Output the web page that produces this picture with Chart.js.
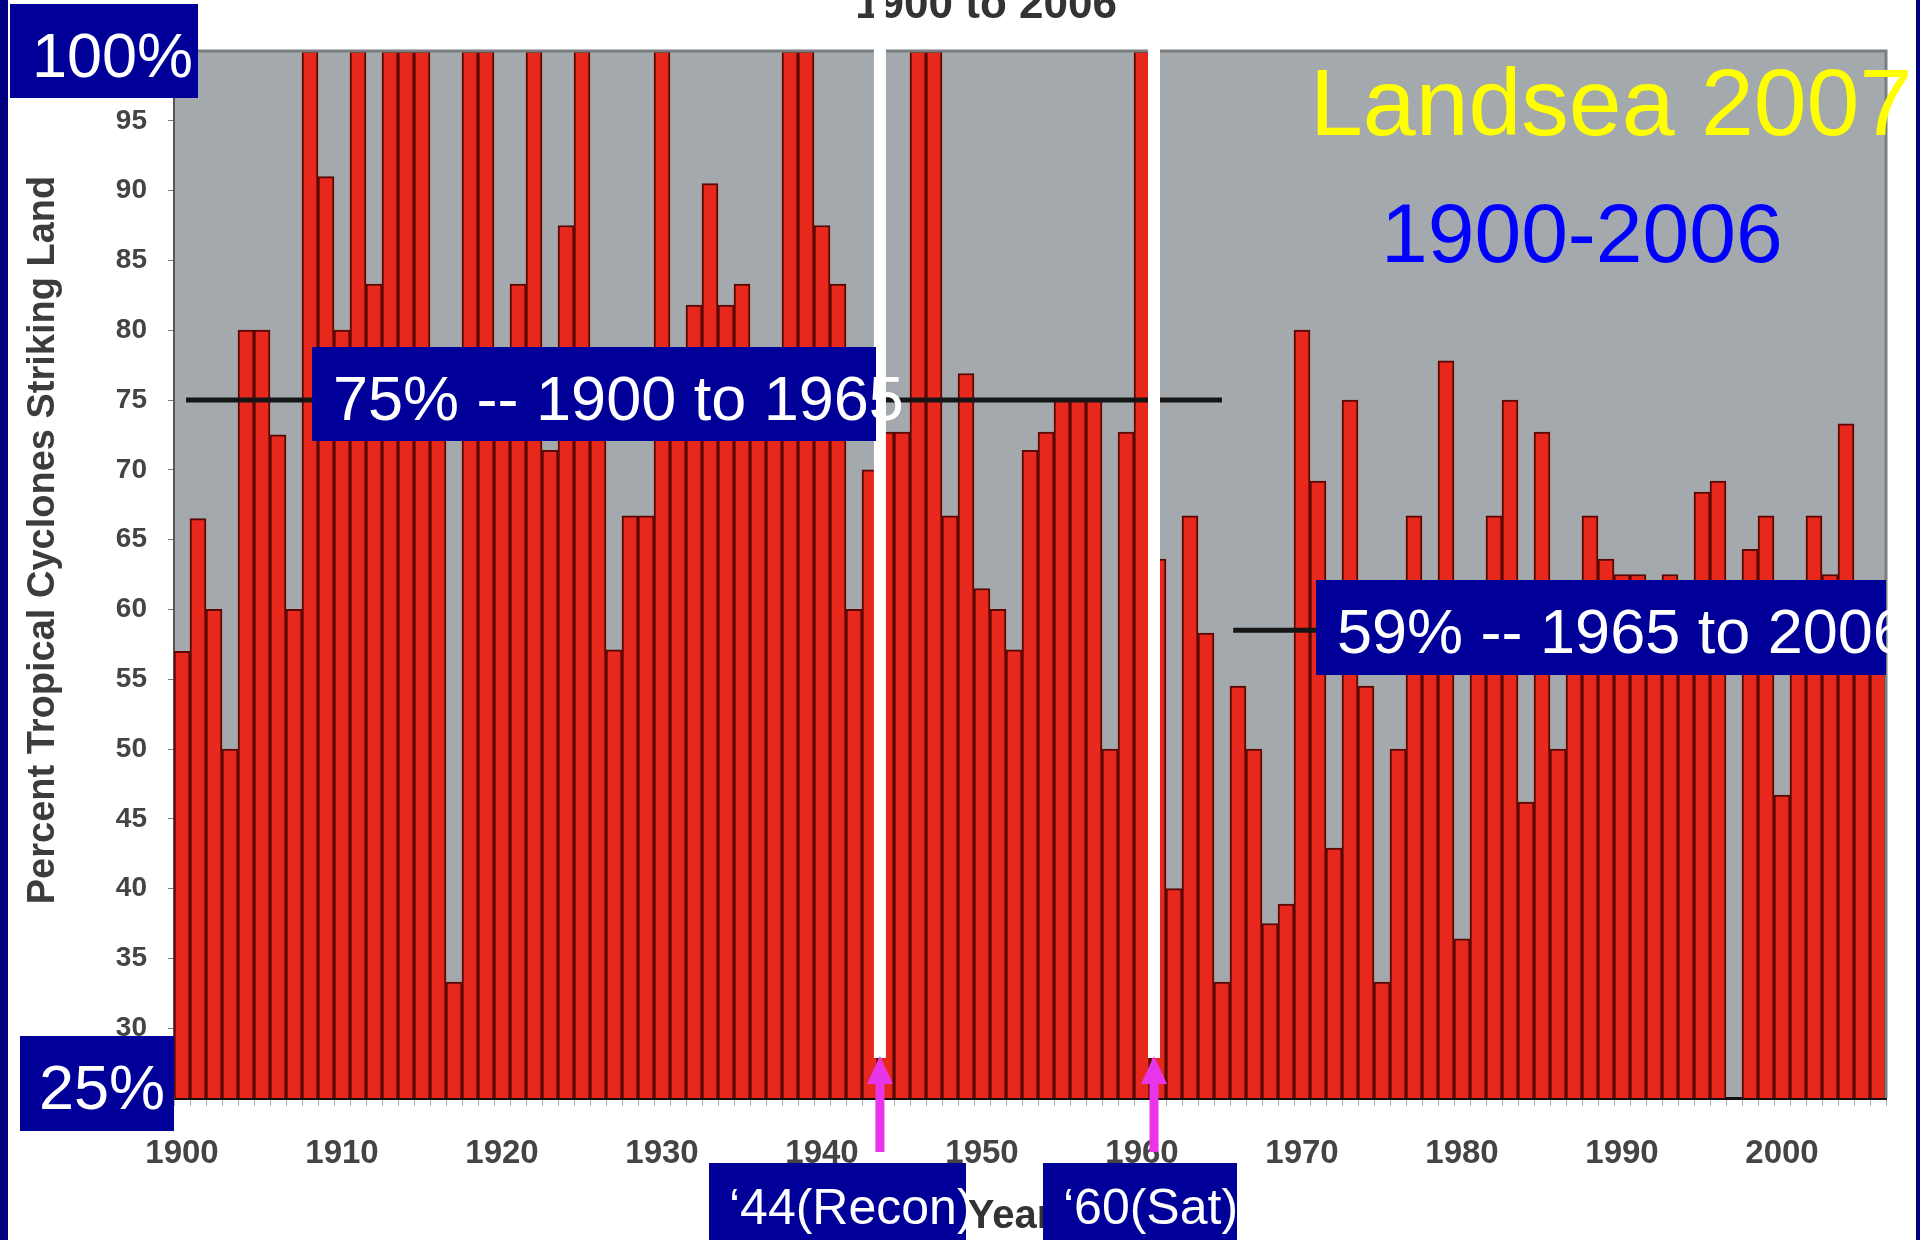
<!DOCTYPE html>
<html>
<head>
<meta charset="utf-8">
<script src="https://cdn.jsdelivr.net/npm/chart.js@4/dist/chart.umd.min.js"></script>
<style>
html,body{margin:0;padding:0;background:#fff;}
#wrap{position:relative;width:1920px;height:1240px;overflow:hidden;background:#fff;}
#c{position:absolute;left:0;top:0;}
.box{position:absolute;background:#000099;color:#fff;font-family:"Liberation Sans",Arial,sans-serif;white-space:nowrap;box-sizing:border-box;line-height:1;overflow:visible;}
.big{font-size:63px;padding-top:20px;}
.small{font-size:50px;padding-top:19px;}
.free{position:absolute;font-family:"Liberation Sans",Arial,sans-serif;white-space:nowrap;line-height:1;}
#lborder{position:absolute;left:0;top:0;width:8px;height:1240px;background:#000080;}
#rborder{position:absolute;right:0;top:0;width:4px;height:1240px;background:#000080;}
</style>
</head>
<body>
<div id="wrap">
  <canvas id="c" width="1920" height="1240"></canvas>
  <div id="lborder"></div>
  <div id="rborder"></div>
  <div class="box big" style="left:10px;top:4px;width:188px;height:94px;padding-left:22px;">100%</div>
  <div class="box big" style="left:20px;top:1036px;width:154px;height:95px;padding-left:19px;">25%</div>
  <div class="box big" style="left:312px;top:347px;width:564px;height:94px;padding-left:21px;">75% -- 1900 to 1965</div>
  <div class="box big" style="left:1316px;top:580px;width:570px;height:95px;padding-left:21px;">59% -- 1965 to 2006</div>
  <div class="box small" style="left:709px;top:1163px;width:257px;height:90px;padding-left:20px;">‘44(Recon)</div>
  <div class="box small" style="left:1043px;top:1163px;width:194px;height:90px;padding-left:20px;">‘60(Sat)</div>
  <div class="free" style="left:1310px;top:55px;font-size:95px;color:#ffff00;">Landsea 2007</div>
  <div class="free" style="left:1381px;top:191px;font-size:84px;color:#0000ff;">1900-2006</div>
</div>
<script>
// ---------------- data ----------------
const years = ["1900","1901","1902","1903","1904","1905","1906","1907","1908","1909",
"1910","1911","1912","1913","1914","1915","1916","1917","1918","1919",
"1920","1921","1922","1923","1924","1925","1926","1927","1928","1929",
"1930","1931","1932","1933","1934","1935","1936","1937","1938","1939",
"1940","1941","1942","1943","1944","1945","1946","1947","1948","1949",
"1950","1951","1952","1953","1954","1955","1956","1957","1958","1959",
"1960","1961","1962","1963","1964","1965","1966","1967","1968","1969",
"1970","1971","1972","1973","1974","1975","1976","1977","1978","1979",
"1980","1981","1982","1983","1984","1985","1986","1987","1988","1989",
"1990","1991","1992","1993","1994","1995","1996","1997","1998","1999",
"2000","2001","2002","2003","2004","2005","2006"];

const landfallPct = [
57, 66.5, 60, 50, 80, 80, 72.5, 60, 100, 91,
80, 100, 83.3, 100, 100, 100, 75, 33.3, 100, 100,
76, 83.3, 100, 71.4, 87.5, 100, 75, 57.1, 66.7, 66.7,
100, 77, 81.8, 90.5, 81.8, 83.3, 76, 75, 100, 100,
87.5, 83.3, 60, 70, 72.7, 72.7, 100, 100, 66.7, 76.9,
61.5, 60, 57.1, 71.4, 72.7, 75, 75, 75, 50, 72.7,
100, 63.6, 40, 66.7, 58.3, 33.3, 54.5, 50, 37.5, 38.9,
80, 69.2, 42.9, 75, 54.5, 33.3, 50, 66.7, 58, 77.8,
36.4, 60, 66.7, 75, 46.2, 72.7, 50, 57, 66.7, 63.6,
62.5, 62.5, 60, 62.5, 58, 68.4, 69.2, null, 64.3, 66.7,
46.7, 58, 66.7, 62.5, 73.3, 58, 57
];

const periodMeans = [75, 58.5];
const periodStartYears = ["1900", "1965"];
const periodEndYears = ["1965", "2006"];
const markerYears = ["1944", "1960"];

const yTickMin = 25, yTickMax = 100, yTickStep = 5;
const chartTitle = "1900 to 2006";
const xTitle = "Year";
const yTitle = "Percent Tropical Cyclones Striking Land";

// ---------------- drawing ----------------
const FONT = '"Liberation Sans", Arial, sans-serif';
Chart.defaults.font.family = FONT;

const overlay = {
  id: 'overlay',
  beforeDraw(chart) {
    const {ctx, chartArea: a} = chart;
    ctx.save();
    ctx.fillStyle = '#a4a9ad';
    ctx.fillRect(a.left, a.top, a.right - a.left, a.bottom - a.top);
    ctx.restore();
  },
  afterDatasetsDraw(chart) {
    const {ctx, chartArea: a, scales: {x, y}} = chart;
    ctx.save();
    ctx.strokeStyle = '#7b7e81';
    ctx.lineWidth = 3;
    ctx.beginPath();
    ctx.moveTo(a.left, a.top);
    ctx.lineTo(a.right, a.top);
    ctx.lineTo(a.right, a.bottom);
    ctx.stroke();
    // period mean lines
    ctx.strokeStyle = '#151515';
    ctx.lineWidth = 5;
    const i0 = years.indexOf(periodStartYears[0]), i1 = years.indexOf(periodEndYears[0]);
    let yy = y.getPixelForValue(periodMeans[0]);
    ctx.beginPath();
    ctx.moveTo(x.getPixelForValue(i0) + 4, yy);
    ctx.lineTo(x.getPixelForValue(i1), yy);
    ctx.stroke();
    const j0 = years.indexOf(periodStartYears[1]);
    yy = y.getPixelForValue(periodMeans[1]);
    ctx.beginPath();
    ctx.moveTo(x.getPixelForValue(j0 + 0.7), yy);
    ctx.lineTo(a.right, yy);
    ctx.stroke();
    ctx.restore();
  },
  afterDraw(chart) {
    const {ctx, chartArea: a, scales: {x, y}} = chart;
    ctx.save();
    // y axis title
    ctx.save();
    ctx.translate(44, 540);
    ctx.rotate(-Math.PI / 2);
    ctx.font = 'bold 38px ' + FONT;
    ctx.fillStyle = '#3c3c3c';
    ctx.textAlign = 'center';
    ctx.textBaseline = 'middle';
    ctx.fillText(yTitle, 0, 0);
    ctx.restore();
    // chart title (cut at top)
    ctx.font = 'bold 44px ' + FONT;
    ctx.fillStyle = '#333333';
    ctx.textAlign = 'center';
    ctx.textBaseline = 'alphabetic';
    ctx.fillText(chartTitle, 986, 18);
    // x axis title
    ctx.font = 'bold 40px ' + FONT;
    ctx.fillStyle = '#333333';
    ctx.fillText(xTitle, 1010, 1228);
    // marker lines and arrows
    const offs = [-0.38, 0.75];
    markerYears.forEach((yr, k) => {
      const cx = x.getPixelForValue(years.indexOf(yr) + offs[k]);
      ctx.fillStyle = '#ffffff';
      ctx.fillRect(cx - 6, 0, 12, a.bottom - 40);
      ctx.fillStyle = '#e935e9';
      ctx.fillRect(cx - 4.5, a.bottom - 16, 9, 70);
      ctx.beginPath();
      ctx.moveTo(cx, a.bottom - 42);
      ctx.lineTo(cx + 13, a.bottom - 14);
      ctx.lineTo(cx - 13, a.bottom - 14);
      ctx.closePath();
      ctx.fill();
    });
    ctx.restore();
  }
};

new Chart(document.getElementById('c'), {
  type: 'bar',
  data: {
    labels: years,
    datasets: [{
      data: landfallPct,
      backgroundColor: '#e8281d',
      borderColor: '#5a0804',
      borderWidth: 2,
      borderSkipped: 'bottom',
      barPercentage: 1,
      categoryPercentage: 1
    }]
  },
  options: {
    responsive: false,
    devicePixelRatio: 1,
    animation: false,
    layout: {padding: {left: 0, top: 51, right: 34, bottom: 0}},
    plugins: {legend: {display: false}, tooltip: {enabled: false}, title: {display: false}},
    scales: {
      x: {
        type: 'category',
        afterFit(s) { s.height = 142; },
        grid: {display: true, drawOnChartArea: false, drawTicks: true, tickLength: 8, color: '#b0b0b0'},
        border: {display: true, color: '#111', width: 3},
        ticks: {
          autoSkip: false, maxRotation: 0, minRotation: 0, padding: 28,
          color: '#444', font: {size: 33, weight: 'bold'},
          callback(v, i) { const l = years[i]; return (parseInt(l) % 10 === 0) ? l : ''; }
        }
      },
      y: {
        min: yTickMin, max: yTickMax,
        afterFit(s) { s.width = 174; },
        grid: {display: true, drawOnChartArea: false, drawTicks: true, tickLength: 6, color: '#777'},
        border: {display: true, color: '#555', width: 2},
        ticks: {stepSize: yTickStep, padding: 21, color: '#444', font: {size: 28, weight: 'bold'}}
      }
    }
  },
  plugins: [overlay]
});
</script>
</body>
</html>
